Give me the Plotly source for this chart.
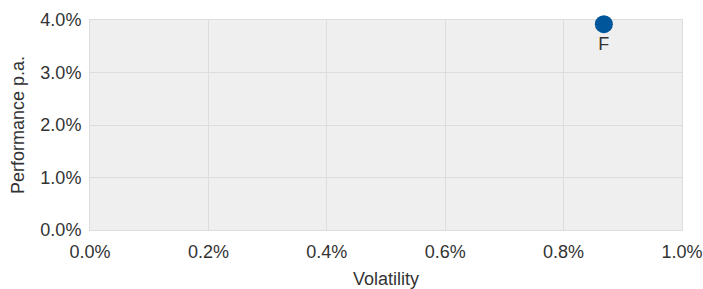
import plotly.graph_objects as go

names = ["F"]
volatility = [0.00868]
performance = [0.0392]

x_ticks = [0, 0.002, 0.004, 0.006, 0.008, 0.010]
y_ticks = [0, 0.01, 0.02, 0.03, 0.04]

fam = "Liberation Sans, Arial, sans-serif"
fig = go.Figure()
fig.add_trace(go.Scatter(
    x=volatility, y=performance, mode="markers+text",
    text=names, textposition="bottom center",
    textfont=dict(size=18, color="#333333", family=fam),
    marker=dict(size=18, color="#00569a"),
    cliponaxis=False, hoverinfo="skip",
))

font = dict(family=fam, size=18, color="#333333")
fig.update_layout(
    width=703, height=289,
    margin=dict(l=90, r=21, t=20, b=59),
    paper_bgcolor="white", plot_bgcolor="#efefef",
    font=font, showlegend=False,
    xaxis=dict(range=[0, 0.010], tickvals=x_ticks, tickformat=".1%",
               gridcolor="#dddddd", showline=True, linecolor="#dddddd", mirror=True,
               zeroline=False, ticks="outside", ticklen=5, tickcolor="rgba(0,0,0,0)",
               automargin=False, layer="below traces",
               title=dict(text="Volatility", standoff=12, font=font)),
    yaxis=dict(range=[0, 0.04], tickvals=y_ticks, tickformat=".1%",
               gridcolor="#dddddd", showline=True, linecolor="#dddddd", mirror=True,
               zeroline=False, ticks="outside", ticklen=4, tickcolor="rgba(0,0,0,0)",
               automargin=False, layer="below traces",
               title=dict(text="Performance p.a.", standoff=11, font=font)),
)
fig.write_html("out.html", config={"displayModeBar": False},
               post_script="document.body.style.margin='0';")
